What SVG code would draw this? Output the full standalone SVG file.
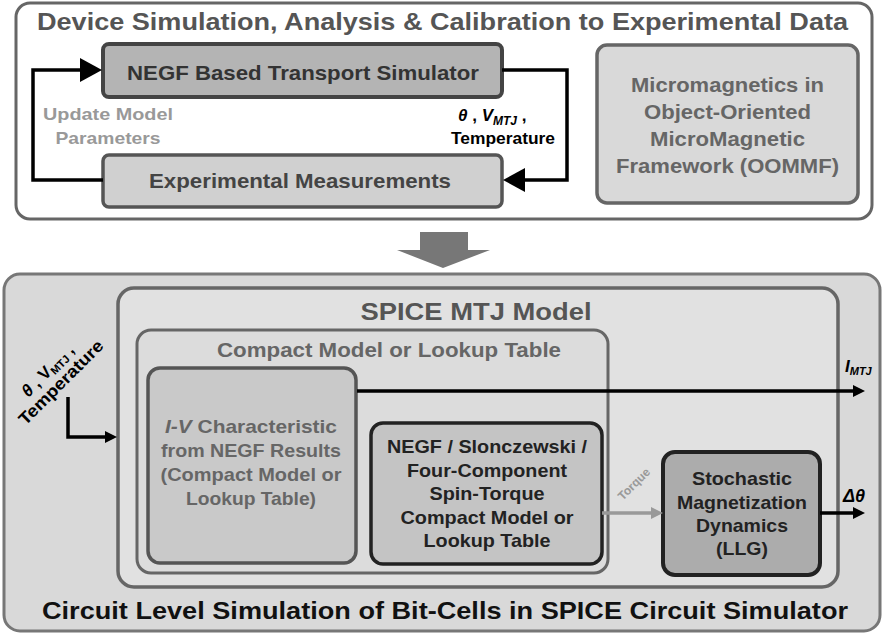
<svg xmlns="http://www.w3.org/2000/svg" width="885" height="635" viewBox="0 0 885 635">
<defs>
<marker id="bigHead" markerUnits="userSpaceOnUse" markerWidth="23" markerHeight="25" refX="0" refY="12" orient="auto"><path d="M0,0 L22,12 L0,24 z" fill="#000"/></marker>
<marker id="smallHead" markerUnits="userSpaceOnUse" markerWidth="13" markerHeight="13" refX="0" refY="6" orient="auto"><path d="M0,0 L12,6 L0,12 z" fill="#000"/></marker>
<marker id="grayHead" markerUnits="userSpaceOnUse" markerWidth="13" markerHeight="13" refX="0" refY="6" orient="auto"><path d="M0,0 L12,6 L0,12 z" fill="#999"/></marker>
</defs>
<style>
text{font-family:"Liberation Sans",Arial,sans-serif;font-weight:bold;text-anchor:middle}
.conn{fill:none;stroke:#000;stroke-width:3.5}
.it{font-style:italic}
</style>

<g id="device-panel">
<rect x="16" y="3" width="856" height="216" rx="14" fill="#fff" stroke="#666" stroke-width="3"/>
<text x="442.5" y="30" font-size="24" fill="#555" textLength="811" lengthAdjust="spacingAndGlyphs">Device Simulation, Analysis &amp; Calibration to Experimental Data</text>
</g>

<g id="negf-simulator">
<rect x="103" y="44" width="399" height="53" rx="6" fill="#b4b4b4" stroke="#444" stroke-width="4"/>
<text x="303" y="80" font-size="21" fill="#333" textLength="352" lengthAdjust="spacingAndGlyphs">NEGF Based Transport Simulator</text>
</g>

<g id="experimental">
<rect x="103" y="155" width="399" height="52" rx="6" fill="#d0d0d0" stroke="#555" stroke-width="3.5"/>
<text x="300" y="188" font-size="21" fill="#444" textLength="302" lengthAdjust="spacingAndGlyphs">Experimental Measurements</text>
</g>

<g id="oommf">
<rect x="597" y="45" width="261" height="158" rx="10" fill="#d9d9d9" stroke="#666" stroke-width="3.5"/>
<text x="727.5" y="92" font-size="20" fill="#666" textLength="193" lengthAdjust="spacingAndGlyphs">Micromagnetics in</text>
<text x="727.5" y="119" font-size="20" fill="#666" textLength="167" lengthAdjust="spacingAndGlyphs">Object-Oriented</text>
<text x="727.5" y="146" font-size="20" fill="#666" textLength="155" lengthAdjust="spacingAndGlyphs">MicroMagnetic</text>
<text x="727.5" y="173" font-size="20" fill="#666" textLength="223" lengthAdjust="spacingAndGlyphs">Framework (OOMMF)</text>
</g>

<g id="down-arrow">
<polygon points="420,232 468,232 468,250 490,250 443,268 397,250 420,250" fill="#777"/>
</g>

<g id="circuit-panel">
<rect x="4" y="274" width="876" height="357" rx="16" fill="#d9d9d9" stroke="#777" stroke-width="3"/>
<text x="445" y="619" font-size="24" fill="#111" textLength="806" lengthAdjust="spacingAndGlyphs">Circuit Level Simulation of Bit-Cells in SPICE Circuit Simulator</text>
</g>

<g id="spice-model">
<rect x="118" y="288" width="720" height="299" rx="16" fill="#e1e1e1" stroke="#666" stroke-width="3.5"/>
<text x="476" y="320" font-size="24" fill="#555" textLength="231" lengthAdjust="spacingAndGlyphs">SPICE MTJ Model</text>
</g>

<g id="compact-model">
<rect x="137" y="330" width="471" height="243" rx="14" fill="#dcdcdc" stroke="#666" stroke-width="3"/>
<text x="389" y="357" font-size="20" fill="#666" textLength="344" lengthAdjust="spacingAndGlyphs">Compact Model or Lookup Table</text>
</g>

<g id="iv-characteristic">
<rect x="148" y="368" width="208" height="195" rx="12" fill="#c9c9c9" stroke="#555" stroke-width="3.5"/>
<text x="251" y="433" font-size="19" fill="#666" textLength="172" lengthAdjust="spacingAndGlyphs"><tspan class="it">I-V</tspan> Characteristic</text>
<text x="251" y="457" font-size="19" fill="#666" textLength="180" lengthAdjust="spacingAndGlyphs">from NEGF Results</text>
<text x="251" y="481" font-size="19" fill="#666" textLength="181" lengthAdjust="spacingAndGlyphs">(Compact Model or</text>
<text x="251" y="505" font-size="19" fill="#666" textLength="130" lengthAdjust="spacingAndGlyphs">Lookup Table)</text>
</g>

<g id="spin-torque">
<rect x="371" y="423" width="231" height="141" rx="12" fill="#c4c4c4" stroke="#222" stroke-width="3.5"/>
<text x="487" y="453" font-size="19" fill="#222" textLength="200" lengthAdjust="spacingAndGlyphs">NEGF / Slonczewski /</text>
<text x="487" y="477" font-size="19" fill="#222" textLength="160" lengthAdjust="spacingAndGlyphs">Four-Component</text>
<text x="487" y="500" font-size="19" fill="#222" textLength="115" lengthAdjust="spacingAndGlyphs">Spin-Torque</text>
<text x="487" y="524" font-size="19" fill="#222" textLength="173" lengthAdjust="spacingAndGlyphs">Compact Model or</text>
<text x="487" y="547" font-size="19" fill="#222" textLength="127" lengthAdjust="spacingAndGlyphs">Lookup Table</text>
</g>

<g id="llg">
<rect x="663" y="452" width="157" height="123" rx="12" fill="#acacac" stroke="#222" stroke-width="4"/>
<text x="742" y="485" font-size="19" fill="#222" textLength="100" lengthAdjust="spacingAndGlyphs">Stochastic</text>
<text x="742" y="509" font-size="19" fill="#222" textLength="130" lengthAdjust="spacingAndGlyphs">Magnetization</text>
<text x="742" y="532" font-size="19" fill="#222" textLength="92" lengthAdjust="spacingAndGlyphs">Dynamics</text>
<text x="742" y="555" font-size="19" fill="#222" textLength="52" lengthAdjust="spacingAndGlyphs">(LLG)</text>
</g>

<g id="connectors">
<path class="conn" d="M103,180 H33 V70 H80" marker-end="url(#bigHead)"/>
<path class="conn" d="M502,70 H567 V180 H525" marker-end="url(#bigHead)"/>
<path class="conn" d="M68,397 V437 H105" marker-end="url(#smallHead)"/>
<path class="conn" d="M357,391 H853" marker-end="url(#smallHead)"/>
<path class="conn" d="M820,513 H853" marker-end="url(#smallHead)"/>
<path d="M602,513 H651" fill="none" stroke="#999" stroke-width="3.5" marker-end="url(#grayHead)"/>
<text x="108" y="120" font-size="17" fill="#999" textLength="130" lengthAdjust="spacingAndGlyphs">Update Model</text>
<text x="108" y="144" font-size="17" fill="#999" textLength="105" lengthAdjust="spacingAndGlyphs">Parameters</text>
<text x="458" y="121" font-size="17" fill="#000" style="text-anchor:start"><tspan class="it">θ</tspan> , <tspan class="it">V</tspan><tspan class="it" font-size="12" dy="4">MTJ</tspan><tspan dy="-4"> ,</tspan></text>
<text x="555" y="144" font-size="17" fill="#000" style="text-anchor:end" textLength="104" lengthAdjust="spacingAndGlyphs">Temperature</text>
<g transform="translate(58,378) rotate(-45)">
<text x="-2" y="-7" font-size="17" fill="#000"><tspan class="it">θ</tspan> , V<tspan font-size="11" dy="3">MTJ</tspan><tspan dy="-3"> ,</tspan></text>
<text x="-1" y="11" font-size="17" fill="#000" textLength="112" lengthAdjust="spacingAndGlyphs">Temperature</text>
</g>
<text x="845" y="372" font-size="17" fill="#000" style="text-anchor:start"><tspan class="it">I</tspan><tspan class="it" font-size="11" dy="3">MTJ</tspan></text>
<text x="843" y="502" font-size="18" fill="#000" class="it" style="text-anchor:start">Δθ</text>
<text transform="translate(634,484) rotate(-45)" x="0" y="4" font-size="12" fill="#999">Torque</text>
</g>
</svg>
